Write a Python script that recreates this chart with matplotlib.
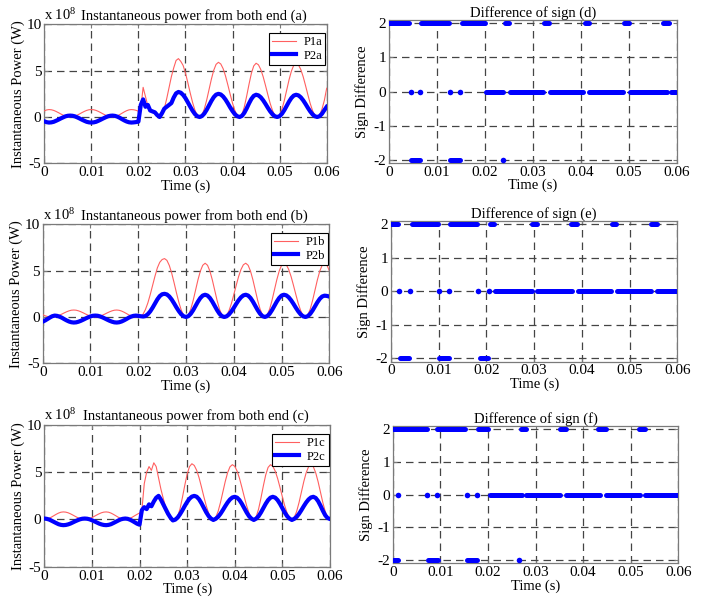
import numpy as np
import matplotlib
matplotlib.use("Agg")
import matplotlib.pyplot as plt

plt.rcParams['font.family'] = ['Liberation Serif', 'DejaVu Serif']
plt.rcParams['mathtext.fontset'] = 'custom'
plt.rcParams['mathtext.rm'] = 'Liberation Serif'
plt.rcParams['mathtext.it'] = 'Liberation Serif:italic'
plt.rcParams['axes.unicode_minus'] = False

# ---------------- data ----------------
# sample instants (s), one sample every 0.5 ms from 0 to 0.06 s
time_s = np.round(np.arange(121) * 0.0005, 5)

x_ticks = [0, 0.01, 0.02, 0.03, 0.04, 0.05, 0.06]
x_tick_labels = ["0", "0.01", "0.02", "0.03", "0.04", "0.05", "0.06"]
power_ticks = [-5, 0, 5, 10]
sign_ticks = [-2, -1, 0, 1, 2]

# instantaneous power, units of 1e8 W
p1a = [0.66, 0.76, 0.80, 0.78, 0.71, 0.60, 0.47, 0.33, 0.20, 0.09, 0.02,
       0.00, 0.02, 0.09, 0.20, 0.33, 0.47, 0.60, 0.71, 0.78, 0.80,
       0.78, 0.71, 0.60, 0.47, 0.33, 0.20, 0.09, 0.02, 0.00,
       0.03, 0.12, 0.25, 0.40, 0.55, 0.68, 0.77, 0.80,
       0.78, 0.72, 0.62,
       0.9, 3.2, 2.2, 1.2, 0.9, 0.7, 0.4, 0.15, 0.0,
       0.24, 0.92, 1.95, 3.15, 4.35, 5.3, 6.1, 6.3,
       6.0, 5.56, 4.73, 3.70, 2.60, 1.58, 0.74, 0.19, 0.0,
       0.22, 0.86, 1.82, 2.95, 4.08, 5.04, 5.68, 5.9,
       5.72, 5.21, 4.43, 3.46, 2.44, 1.48, 0.69, 0.18, 0.0,
       0.29, 1.09, 2.26, 3.54, 4.71, 5.51, 5.8,
       5.63, 5.12, 4.35, 3.40, 2.40, 1.45, 0.68, 0.17, 0.0,
       0.22, 0.85, 1.79, 2.9, 4.01, 4.95, 5.58, 5.8,
       5.63, 5.12, 4.35, 3.40, 2.40, 1.45, 0.68, 0.17, 0.0,
       0.22, 0.85, 1.79, 3.1]
p2a = [-0.47, -0.56, -0.60, -0.58, -0.52, -0.41, -0.29, -0.16, -0.04, 0.07, 0.13,
       0.15, 0.13, 0.07, -0.04, -0.16, -0.29, -0.41, -0.52, -0.58, -0.60,
       -0.58, -0.52, -0.41, -0.29, -0.16, -0.04, 0.07, 0.13, 0.15,
       0.12, 0.04, -0.08, -0.23, -0.37, -0.49, -0.57, -0.60,
       -0.58, -0.55, -0.50,
       1.3, 1.9, 1.1, 1.3, 0.7, 0.6, 0.5, 0.2, 0.0,
       0.4, 0.9, 1.1, 1.3, 1.5, 2.1, 2.55, 2.7,
       2.62, 2.38, 2.03, 1.58, 1.12, 0.68, 0.32, 0.08, 0.0,
       0.10, 0.37, 0.77, 1.25, 1.73, 2.14, 2.41, 2.5,
       2.43, 2.21, 1.88, 1.47, 1.03, 0.63, 0.29, 0.08, 0.0,
       0.12, 0.45, 0.93, 1.47, 1.95, 2.28, 2.4,
       2.33, 2.12, 1.8, 1.41, 0.99, 0.6, 0.28, 0.07, 0.0,
       0.09, 0.35, 0.74, 1.2, 1.66, 2.05, 2.31, 2.4,
       2.33, 2.12, 1.8, 1.41, 0.99, 0.6, 0.28, 0.07, 0.0,
       0.09, 0.35, 0.74, 1.1]

p1b = [0.25, 0.13, 0.05, 0.01, 0.00,
       0.02, 0.09, 0.19, 0.31, 0.44, 0.56, 0.66, 0.73, 0.75,
       0.73, 0.66, 0.56, 0.44, 0.31, 0.19, 0.09, 0.02, 0.00,
       0.02, 0.09, 0.19, 0.31, 0.44, 0.56, 0.66, 0.73, 0.75,
       0.72, 0.64, 0.52, 0.38, 0.23, 0.11, 0.03, 0.00,
       0.02,
       0.05, 0.3, 0.8, 1.5, 2.4, 3.4, 4.4, 5.3, 5.9, 6.2, 6.3,
       6.11, 5.56, 4.73, 3.70, 2.60, 1.58, 0.74, 0.19, 0.0,
       0.22, 0.85, 1.79, 2.9, 4.01, 4.95, 5.58, 5.8,
       5.58, 4.95, 4.01, 2.9, 1.79, 0.85, 0.22, 0.0,
       0.17, 0.68, 1.45, 2.4, 3.4, 4.35, 5.12, 5.63, 5.8,
       5.58, 4.95, 4.01, 2.9, 1.79, 0.85, 0.22, 0.0,
       0.22, 0.85, 1.79, 2.9, 4.01, 4.95, 5.58, 5.8,
       5.63, 5.12, 4.35, 3.4, 2.4, 1.45, 0.68, 0.17, 0.0,
       0.22, 0.85, 1.79, 2.9, 4.01, 4.95, 5.58, 5.8,
       5.58, 5.0]
p2b = [-0.50, -0.38, -0.22, -0.06, 0.08, 0.15,
       0.12, 0.04, -0.08, -0.23, -0.37, -0.49, -0.57, -0.60,
       -0.58, -0.51, -0.41, -0.29, -0.16, -0.04, 0.06, 0.13, 0.15,
       0.13, 0.06, -0.04, -0.16, -0.29, -0.41, -0.51, -0.58, -0.60,
       -0.57, -0.49, -0.37, -0.23, -0.08, 0.04, 0.12, 0.15,
       0.12,
       0.08, 0.05, 0.1, 0.3, 0.6, 1.0, 1.45, 1.9, 2.25, 2.45, 2.5,
       2.43, 2.21, 1.88, 1.47, 1.03, 0.63, 0.29, 0.08, 0.0,
       0.09, 0.35, 0.74, 1.2, 1.66, 2.05, 2.31, 2.4,
       2.31, 2.05, 1.66, 1.2, 0.74, 0.35, 0.09, 0.0,
       0.07, 0.28, 0.6, 0.99, 1.41, 1.8, 2.12, 2.33, 2.4,
       2.31, 2.05, 1.66, 1.2, 0.74, 0.35, 0.09, 0.0,
       0.09, 0.35, 0.74, 1.2, 1.66, 2.05, 2.31, 2.4,
       2.33, 2.12, 1.8, 1.41, 0.99, 0.6, 0.28, 0.07, 0.0,
       0.09, 0.34, 0.71, 1.15, 1.59, 1.96, 2.21, 2.3,
       2.27, 2.2]

p1c = [0.08, 0.05, 0.12, 0.25, 0.40, 0.55, 0.68, 0.77, 0.80,
       0.78, 0.71, 0.60, 0.47, 0.33, 0.20, 0.09, 0.02, 0.00,
       0.02, 0.09, 0.20, 0.33, 0.47, 0.60, 0.71, 0.78, 0.80,
       0.77, 0.68, 0.55, 0.40, 0.25, 0.12, 0.03, 0.00,
       0.03, 0.12, 0.25, 0.40, 0.55, 0.68,
       1.0, 3.8, 5.0, 5.6, 5.2, 6.0, 5.6, 4.4, 3.2, 2.2, 1.3, 0.6, 0.2, 0.02, 0.0,
       0.3, 1.11, 2.3, 3.6, 4.79, 5.6, 5.9,
       5.72, 5.21, 4.43, 3.46, 2.44, 1.48, 0.69, 0.18, 0.0,
       0.22, 0.85, 1.79, 2.9, 4.01, 4.95, 5.58, 5.8,
       5.63, 5.12, 4.35, 3.4, 2.4, 1.45, 0.68, 0.17, 0.0,
       0.29, 1.09, 2.26, 3.54, 4.71, 5.51, 5.8,
       5.63, 5.12, 4.35, 3.4, 2.4, 1.45, 0.68, 0.17, 0.0,
       0.22, 0.85, 1.79, 2.9, 4.01, 4.95, 5.58, 5.8,
       5.58, 4.95, 4.01, 2.9, 1.79, 0.85, 0.22, 0.0]
p2c = [0.10, 0.07, 0.00, -0.12, -0.25, -0.38, -0.50, -0.57, -0.60,
       -0.58, -0.52, -0.43, -0.31, -0.19, -0.08, 0.02, 0.08, 0.10,
       0.08, 0.02, -0.08, -0.19, -0.31, -0.43, -0.52, -0.58, -0.60,
       -0.57, -0.50, -0.38, -0.25, -0.12, 0.00, 0.07, 0.10,
       0.07, -0.02, -0.15, -0.30, -0.45, -0.55,
       1.0, 1.3, 1.1, 1.6, 1.4, 1.9, 2.3, 2.5, 2.1, 1.6, 1.1, 0.6, 0.2, -0.1,
       -0.02, 0.2, 0.55, 0.97, 1.43, 1.85, 2.2, 2.42, 2.5,
       2.41, 2.14, 1.73, 1.25, 0.77, 0.37, 0.1, -0.05,
       0.07, 0.28, 0.6, 0.99, 1.41, 1.8, 2.12, 2.33, 2.4,
       2.31, 2.05, 1.66, 1.2, 0.74, 0.35, 0.09, -0.05,
       0.09, 0.35, 0.74, 1.2, 1.66, 2.05, 2.31, 2.4,
       2.31, 2.05, 1.66, 1.2, 0.74, 0.35, 0.09, -0.05,
       0.07, 0.28, 0.6, 0.99, 1.41, 1.8, 2.12, 2.33, 2.4,
       2.28, 1.95, 1.47, 0.93, 0.45, 0.15, 0.05]

# sign difference: runs (start, end in s) at each level and isolated samples
d_runs_pos2 = [(0.0, 0.0042), (0.0067, 0.0125), (0.0152, 0.0200), (0.0241, 0.0250),
               (0.0324, 0.0334), (0.0408, 0.0417), (0.0490, 0.0501), (0.0572, 0.0584)]
d_runs_zero = [(0.0203, 0.0238), (0.0252, 0.0322), (0.0335, 0.0405), (0.0418, 0.0489),
               (0.0502, 0.0579), (0.0589, 0.0598)]
d_dots_zero = [0.0045, 0.0065, 0.0127, 0.0149]
d_runs_neg2 = [(0.0046, 0.0064), (0.0128, 0.0148)]
d_dots_neg2 = [0.0237]

e_runs_pos2 = [(0.0, 0.0015), (0.0043, 0.0098), (0.0123, 0.0180), (0.0207, 0.0215),
               (0.0296, 0.0306), (0.0378, 0.0389), (0.0463, 0.0471), (0.0544, 0.0557)]
e_runs_zero = [(0.0217, 0.0295), (0.0306, 0.0379), (0.0392, 0.0461), (0.0474, 0.0545),
               (0.0558, 0.0600)]
e_dots_zero = [0.0017, 0.0040, 0.0100, 0.0122, 0.0183, 0.0205]
e_runs_neg2 = [(0.0018, 0.0037), (0.0101, 0.0121), (0.0186, 0.0204)]
e_dots_neg2 = []

f_runs_pos2 = [(0.0, 0.0072), (0.0094, 0.0152), (0.0179, 0.0201), (0.0269, 0.0279),
               (0.0352, 0.0363), (0.0432, 0.0447), (0.0518, 0.0529)]
f_runs_zero = [(0.0204, 0.0272), (0.0281, 0.0352), (0.0363, 0.0436), (0.0447, 0.0519),
               (0.0530, 0.0600)]
f_dots_zero = [0.0011, 0.0073, 0.0094, 0.0155, 0.0176]
f_runs_neg2 = [(0.0, 0.0011), (0.0074, 0.0095), (0.0157, 0.0177)]
f_dots_neg2 = [0.0266]

# ---------------- figure ----------------
fig = plt.figure(figsize=(7.13, 6.02), dpi=100)

RED = '#ff6060'
BLUE = '#0000ff'
SPINE = '#7a7a7a'


def style_axes(ax):
    ax.set_xlim(0, 0.06)
    ax.set_xticks(x_ticks)
    ax.set_xticklabels(x_tick_labels)
    ax.grid(True, linestyle=(0, (6, 4)), color='#444444', linewidth=0.9)
    ax.set_axisbelow(True)
    ax.tick_params(direction='in', top=True, right=True, length=3, width=0.8,
                   color=SPINE, labelcolor='black', labelsize=11, pad=2)
    for s in ax.spines.values():
        s.set_color(SPINE)
        s.set_linewidth(0.9)
    ax.set_xlabel('Time (s)', fontsize=10.5, labelpad=0)


def power_panel(rect, red, blue, tag):
    ax = fig.add_axes(rect)
    ax.plot(time_s, red, color=RED, linewidth=0.8, label='P1' + tag, zorder=3)
    ax.plot(time_s, blue, color=BLUE, linewidth=3.0, label='P2' + tag, zorder=4)
    style_axes(ax)
    ax.set_ylim(-5, 10)
    ax.set_yticks(power_ticks)
    ax.set_ylabel('Instantaneous Power (W)', fontsize=10.5, labelpad=1)
    ax.text(0.0, 1.012, r'x 10$^{8}$', transform=ax.transAxes, ha='left',
            va='bottom', fontsize=10.5)
    ax.text(0.53, 1.012, 'Instantaneous power from both end (%s)' % tag,
            transform=ax.transAxes, ha='center', va='bottom', fontsize=10.5)
    leg = ax.legend(loc='upper right', bbox_to_anchor=(0.995, 0.935),
                    borderaxespad=0, fontsize=9, fancybox=False,
                    framealpha=1, edgecolor='black', handlelength=1.9,
                    labelspacing=0.1, borderpad=0.25, handletextpad=0.6)
    leg.get_frame().set_linewidth(0.8)
    return ax


def sign_panel(rect, runs2, runs0, dots0, runsn2, dotsn2, tag):
    ax = fig.add_axes(rect)
    for level, runs in ((2, runs2), (0, runs0), (-2, runsn2)):
        for (a, b) in runs:
            ax.plot([a, b], [level, level], color=BLUE, linewidth=3.6,
                    solid_capstyle='round', zorder=3)
    if dots0:
        ax.plot(dots0, [0] * len(dots0), 'o', color=BLUE, markersize=4.0,
                markeredgewidth=0, zorder=3)
    if dotsn2:
        ax.plot(dotsn2, [-2] * len(dotsn2), 'o', color=BLUE, markersize=4.0,
                markeredgewidth=0, zorder=3)
    style_axes(ax)
    ax.set_ylim(-2.1, 2.1)
    ax.set_yticks(sign_ticks)
    ax.set_ylabel('Sign Difference', fontsize=10.5, labelpad=3)
    ax.set_title('Difference of sign (%s)' % tag, fontsize=10.5, pad=2)
    return ax


power_panel([0.0621, 0.7287, 0.3961, 0.2309], p1a, p2a, 'a')
power_panel([0.0599, 0.3965, 0.4020, 0.2309], p1b, p2b, 'b')
power_panel([0.0621, 0.0586, 0.4007, 0.2354], p1c, p2c, 'c')

sign_panel([0.5456, 0.7292, 0.4035, 0.2375], d_runs_pos2, d_runs_zero, d_dots_zero,
           d_runs_neg2, d_dots_neg2, 'd')
sign_panel([0.5484, 0.3992, 0.4015, 0.2337], e_runs_pos2, e_runs_zero, e_dots_zero,
           e_runs_neg2, e_dots_neg2, 'e')
sign_panel([0.5508, 0.0641, 0.4006, 0.2282], f_runs_pos2, f_runs_zero, f_dots_zero,
           f_runs_neg2, f_dots_neg2, 'f')

fig.savefig('out.png', dpi=100, facecolor='white')
